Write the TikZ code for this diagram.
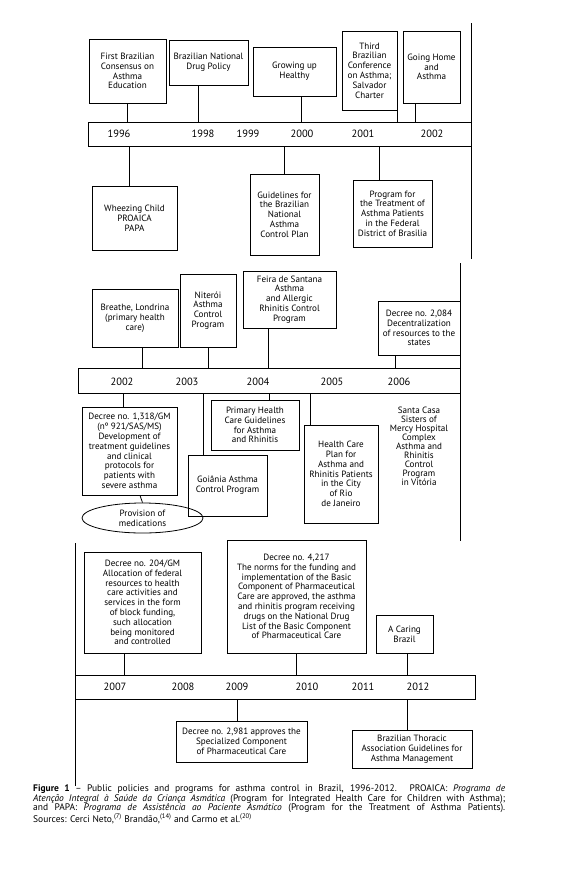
\documentclass[tikz,border=0pt]{standalone}
\usepackage{fontspec}
\setmainfont{PT Sans}
\usetikzlibrary{shapes.geometric}
\newcommand{\evfont}{\fontsize{9.1}{9.8}\selectfont}
\newcommand{\vitfont}{\fontsize{9.1}{9}\selectfont}
\newcommand{\yrfont}{\fontsize{10.5}{11}\selectfont}
\newcommand{\capfont}{\fontsize{9.5}{9.5}\selectfont}

\begin{document}
\begin{tikzpicture}[
        x=1pt, y=-1pt,
        event/.style={draw, line width=0.8pt, align=center, inner sep=1pt, font=\evfont},
        yearbar/.style={draw, line width=0.8pt, inner sep=0pt, minimum height=24pt},
        year/.style={font=\yrfont, inner sep=0pt},
        link/.style={line width=0.8pt}
    ]
    \useasboundingbox (0,0) rectangle (563,876);

    % First period: 1996-2002
    \node[yearbar, minimum width=383pt] (bar1) at (279.5,134) {};
    \node[year] (y1996) at (119,134) {1996};
    \node[year] (y1998) at (203,134) {1998};
    \node[year] (y1999) at (248,134) {1999};
    \node[year] (y2000) at (302,134) {2000};
    \node[year] (y2001) at (363,134) {2001};
    \node[year] (y2002a) at (432,134) {2002};
    \coordinate (r1top) at (471,23);
    \coordinate (r1bot) at (471,259);
    \draw[link] (r1top) -- (r1bot);

    % Events above the first bar
    \node[event, minimum width=77pt, minimum height=64pt] (c96) at (127.5,71) {First Brazilian\\Consensus on\\Asthma\\Education};
    \node[event, minimum width=79pt, minimum height=45pt] (c98) at (208.5,62.5) {Brazilian National\\Drug Policy};
    \node[event, minimum width=83pt, minimum height=49pt] (c00) at (294.5,71.5) {Growing up\\Healthy};
    \node[event, minimum width=55pt, minimum height=79pt] (c01) at (369.5,70.5) {Third\\Brazilian\\Conference\\on Asthma;\\Salvador\\Charter};
    \node[event, minimum width=57pt, minimum height=72pt] (c02) at (431.5,67) {Going Home\\and\\Asthma};
    \draw[link] (c96.south) -- (c96.south |- bar1.north);
    \draw[link] ([xshift=-10.5pt]c98.south) -- ([xshift=-10.5pt]c98.south |- bar1.north);
    \draw[link] ([xshift=6.5pt]c00.south) -- ([xshift=6.5pt]c00.south |- bar1.north);
    \draw[link] (c01.south east) -- (c01.south east |- bar1.north);
    \draw[link] ([xshift=-16.5pt]c02.south) -- ([xshift=-16.5pt]c02.south |- bar1.north);

    % Events below the first bar
    \node[event, minimum width=85pt, minimum height=64pt] (d96) at (134.5,218) {Wheezing Child\\PROAICA\\PAPA};
    \node[event, minimum width=69pt, minimum height=81pt] (d00) at (284.5,214.5) {Guidelines for\\the Brazilian\\National\\Asthma\\Control Plan};
    \node[event, minimum width=79pt, minimum height=67pt] (d01) at (392.5,213.5) {Program for\\the Treatment of\\Asthma Patients\\in the Federal\\District of Brasilia};
    \draw[link] ([xshift=-5.5pt]d96.north) -- ([xshift=-5.5pt]d96.north |- bar1.south);
    \draw[link] (d00.north) -- (d00.north |- bar1.south);
    \draw[link] ([xshift=-13.5pt]d01.north) -- ([xshift=-13.5pt]d01.north |- bar1.south);

    % Second period: 2002-2006
    \node[yearbar, minimum width=382pt, minimum height=25pt] (bar2) at (269,380.5) {};
    \node[year] (y2002b) at (122,382) {2002};
    \node[year] (y2003) at (187,382) {2003};
    \node[year] (y2004) at (258,382) {2004};
    \node[year] (y2005) at (332,382) {2005};
    \node[year] (y2006) at (399,382) {2006};
    \coordinate (r2top) at (460,263);
    \coordinate (r2bot) at (460,541);
    \draw[link] (r2top) -- (r2bot);

    % Events above the second bar
    \node[event, minimum width=86pt, minimum height=58pt] (e02) at (135,318) {Breathe, Londrina\\(primary health\\care)};
    \node[event, minimum width=56pt, minimum height=73pt] (e03) at (208,310.5) {Niterói\\Asthma\\Control\\Program};
    \node[event, minimum width=93pt, minimum height=57pt] (e04) at (289.5,299.5) {Feira de Santana\\Asthma\\and Allergic\\Rhinitis Control\\Program};
    \node[event, minimum width=82pt, minimum height=54pt] (e06) at (419,328) {Decree no. 2,084\\Decentralization\\of resources to the\\states};
    \draw[link] ([xshift=7pt]e02.south) -- ([xshift=7pt]e02.south |- bar2.north);
    \draw[link] (e03.south) -- (e03.south |- bar2.north);
    \draw[link] ([xshift=-21.5pt]e04.south) -- ([xshift=-21.5pt]e04.south |- bar2.north);
    \draw[link] ([xshift=-24pt]e06.south) -- ([xshift=-24pt]e06.south |- bar2.north);

    % Events below the second bar
    \node[event, minimum width=95pt, minimum height=88pt] (f02) at (129.5,451) {Decree no. 1,318/GM\\(nº 921/SAS/MS)\\Development of\\treatment guidelines\\and clinical\\protocols for\\patients with\\severe asthma};
    \node[event, ellipse, minimum width=121pt, minimum height=30pt, inner sep=0pt] (med) at (142.5,518) {Provision of\\medications};
    \node[event, minimum width=79pt, minimum height=61pt] (f03) at (227.5,485.5) {Goiânia Asthma\\Control Program};
    \node[event, minimum width=88pt, minimum height=50pt] (f04) at (255,425) {Primary Health\\Care Guidelines\\for Asthma\\and Rhinitis};
    \node[event, minimum width=74pt, minimum height=98pt] (f05) at (341,474) {Health Care\\Plan for\\Asthma and\\Rhinitis Patients\\in the City\\of Rio\\de Janeiro};
    \node[align=center, font=\vitfont, inner sep=0pt] (f06) at (419,446) {Santa Casa\\Sisters of\\Mercy Hospital\\Complex\\Asthma and\\Rhinitis\\Control\\Program\\in Vitória};
    \draw[link] ([xshift=-6.5pt]f02.north) -- ([xshift=-6.5pt]f02.north |- bar2.south);
    \draw[link] ([xshift=10.5pt]f02.south) -- (med.north);
    \draw[link] ([xshift=-24.5pt]f03.north) -- ([xshift=-24.5pt]f03.north |- bar2.south);
    \draw[link] ([xshift=14pt]f04.north) -- ([xshift=14pt]f04.north |- bar2.south);
    \draw[link] ([xshift=-31pt]f05.north) -- ([xshift=-31pt]f05.north |- bar2.south);

    % Third period: 2007-2012
    \node[yearbar, minimum width=400pt] (bar3) at (275,687) {};
    \node[year] (y2007) at (115,687) {2007};
    \node[year] (y2008) at (183,687) {2008};
    \node[year] (y2009) at (237,687) {2009};
    \node[year] (y2010) at (307,687) {2010};
    \node[year] (y2011) at (363,687) {2011};
    \node[year] (y2012) at (418,687) {2012};
    \coordinate (l3top) at (75,543);
    \coordinate (l3bot) at (75,786);
    \draw[link] (l3top) -- (l3bot);

    % Events above the third bar
    \node[event, minimum width=117pt, minimum height=101pt] (g07) at (142.5,602.5) {Decree no. 204/GM\\Allocation of federal\\resources to health\\care activities and\\services in the form\\of block funding,\\such allocation\\being monitored\\and controlled};
    \node[event, minimum width=139pt, minimum height=113pt] (g10) at (296.5,596.5) {Decree no. 4,217\\The norms for the funding and\\implementation of the Basic\\Component of Pharmaceutical\\Care are approved, the asthma\\and rhinitis program receiving\\drugs on the National Drug\\List of the Basic Component\\of Pharmaceutical Care};
    \node[event, minimum width=57pt, minimum height=38pt] (g12) at (404.5,634) {A Caring\\Brazil};
    \draw[link] ([xshift=-18.5pt]g07.south) -- ([xshift=-18.5pt]g07.south |- bar3.north);
    \draw[link] (g10.south) -- (g10.south |- bar3.north);
    \draw[link] ([xshift=2.5pt]g12.south) -- ([xshift=2.5pt]g12.south |- bar3.north);

    % Events below the third bar
    \node[event, minimum width=131pt, minimum height=41pt] (h09) at (241.5,741.5) {Decree no. 2,981 approves the\\Specialized Component\\of Pharmaceutical Care};
    \node[event, minimum width=120pt, minimum height=38pt] (h12) at (412,749) {Brazilian Thoracic\\Association Guidelines for\\Asthma Management};
    \draw[link] ([xshift=-4.5pt]h09.north) -- ([xshift=-4.5pt]h09.north |- bar3.south);
    \draw[link] ([xshift=-5pt]h12.north) -- ([xshift=-5pt]h12.north |- bar3.south);

    % Caption
    \node[anchor=north west, text width=472pt, align=justify, inner sep=0pt, font=\capfont] (cap) at (33,785) {\textbf{Figure 1} – Public policies and programs for asthma control in Brazil, 1996-2012. PROAICA: \textit{Programa de}\linebreak \textit{Atenção Integral à Saúde da Criança Asmática} (Program for Integrated Health Care for Children with Asthma);\linebreak and PAPA: \textit{Programa de Assistência ao Paciente Asmático} (Program for the Treatment of Asthma Patients).\linebreak Sources: Cerci Neto,\textsuperscript{(7)} Brandão,\textsuperscript{(14)} and Carmo et al.\textsuperscript{(20)}};

\end{tikzpicture}
\end{document}
